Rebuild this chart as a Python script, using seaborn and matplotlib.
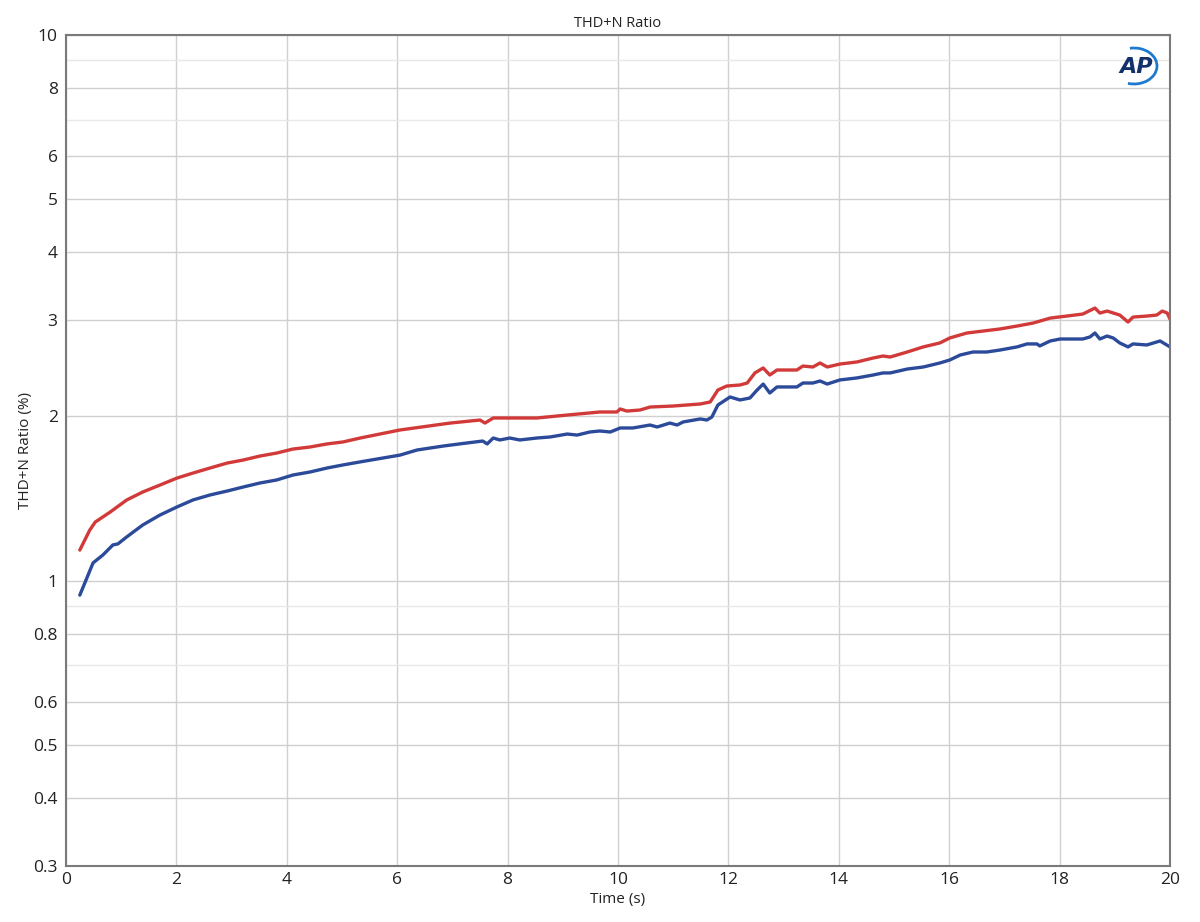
import numpy as np
import pandas as pd
import matplotlib
matplotlib.use("Agg")
import matplotlib.pyplot as plt
from matplotlib.patches import Arc
import seaborn as sns

# ---- data ----
red_t = [0.25, 0.43, 0.53, 0.80, 1.10, 1.39, 1.70, 2.01, 2.30, 2.61, 2.92, 3.21, 3.51, 3.82,
         4.11, 4.42, 4.73, 5.02, 5.33, 6.05, 6.96, 7.50, 7.59, 7.74, 8.53, 9.08, 9.67, 9.98,
         10.04, 10.16, 10.40, 10.58, 11.00, 11.49, 11.67, 11.81, 11.97, 12.21, 12.34, 12.48,
         12.63, 12.75, 12.88, 13.24, 13.35, 13.53, 13.66, 13.79, 14.02, 14.33, 14.62, 14.80,
         14.93, 15.24, 15.53, 15.83, 16.01, 16.32, 16.92, 17.23, 17.52, 17.83, 18.13, 18.42,
         18.64, 18.73, 18.86, 19.09, 19.24, 19.33, 19.58, 19.76, 19.86, 19.95, 20.0]
red_v = [1.138, 1.238, 1.281, 1.336, 1.406, 1.454, 1.497, 1.542, 1.575, 1.609, 1.643, 1.664,
         1.692, 1.714, 1.743, 1.758, 1.781, 1.796, 1.826, 1.889, 1.945, 1.970, 1.945, 1.987,
         1.987, 2.012, 2.038, 2.038, 2.064, 2.046, 2.055, 2.081, 2.090, 2.108, 2.126, 2.236,
         2.274, 2.284, 2.303, 2.403, 2.454, 2.382, 2.433, 2.433, 2.474, 2.464, 2.506, 2.464,
         2.495, 2.517, 2.559, 2.581, 2.570, 2.625, 2.682, 2.727, 2.785, 2.844, 2.893, 2.929,
         2.966, 3.029, 3.055, 3.081, 3.160, 3.094, 3.120, 3.068, 2.979, 3.042, 3.055, 3.068,
         3.120, 3.094, 3.016]

blue_t = [0.25, 0.34, 0.49, 0.67, 0.85, 0.94, 1.10, 1.39, 1.70, 2.01, 2.30, 2.61, 2.92, 3.21,
          3.51, 3.82, 4.11, 4.42, 4.73, 5.02, 5.33, 6.05, 6.36, 6.83, 7.26, 7.55, 7.63, 7.74,
          7.86, 8.04, 8.22, 8.53, 8.77, 9.08, 9.26, 9.49, 9.67, 9.86, 10.04, 10.27, 10.58,
          10.71, 10.94, 11.07, 11.18, 11.49, 11.61, 11.70, 11.81, 12.03, 12.21, 12.39, 12.52,
          12.63, 12.75, 12.88, 13.24, 13.35, 13.53, 13.66, 13.79, 14.02, 14.33, 14.62, 14.80,
          14.93, 15.24, 15.53, 15.83, 16.01, 16.20, 16.43, 16.68, 16.92, 17.23, 17.41, 17.59,
          17.64, 17.83, 18.01, 18.42, 18.55, 18.64, 18.73, 18.86, 18.97, 19.09, 19.24, 19.33,
          19.58, 19.82, 20.0]
blue_v = [0.941, 0.990, 1.078, 1.115, 1.163, 1.168, 1.203, 1.265, 1.319, 1.365, 1.406, 1.436,
          1.460, 1.485, 1.510, 1.530, 1.562, 1.582, 1.609, 1.630, 1.651, 1.699, 1.736, 1.765,
          1.788, 1.803, 1.781, 1.826, 1.811, 1.826, 1.811, 1.826, 1.834, 1.857, 1.849, 1.873,
          1.881, 1.873, 1.905, 1.905, 1.929, 1.913, 1.945, 1.929, 1.954, 1.979, 1.970, 1.995,
          2.099, 2.171, 2.144, 2.162, 2.236, 2.293, 2.208, 2.265, 2.265, 2.303, 2.303, 2.323,
          2.293, 2.333, 2.353, 2.382, 2.403, 2.403, 2.443, 2.464, 2.506, 2.538, 2.592, 2.625,
          2.625, 2.647, 2.682, 2.716, 2.716, 2.693, 2.750, 2.773, 2.773, 2.797, 2.844, 2.773,
          2.808, 2.785, 2.727, 2.682, 2.716, 2.704, 2.750, 2.682]

channels = ["Ch2", "Ch1"]
y_major = [0.3, 0.4, 0.5, 0.6, 0.8, 1, 2, 3, 4, 5, 6, 8, 10]
y_major_labels = ["0.3", "0.4", "0.5", "0.6", "0.8", "1", "2", "3", "4", "5", "6", "8", "10"]
y_minor = [0.7, 0.9, 7, 9]
x_ticks = [0, 2, 4, 6, 8, 10, 12, 14, 16, 18, 20]

df = pd.concat([
    pd.DataFrame({"t": red_t, "v": red_v, "ch": channels[0]}),
    pd.DataFrame({"t": blue_t, "v": blue_v, "ch": channels[1]}),
], ignore_index=True)

sns.set_theme(style="white")
plt.rcParams["font.family"] = ["Open Sans", "DejaVu Sans"]

fig = plt.figure(figsize=(12, 9.22), dpi=100)
ax = fig.add_axes([0.055, 0.0607, 0.92, 0.9013])

ax.set_yscale("log")
ax.set_ylim(0.3, 10)
ax.set_xlim(0, 20)

ax.set_yticks(y_major)
ax.set_yticklabels(y_major_labels)
ax.set_yticks(y_minor, minor=True)
ax.yaxis.set_minor_formatter(matplotlib.ticker.NullFormatter())
ax.set_xticks(x_ticks)
ax.set_xticklabels([str(x) for x in x_ticks])

ax.grid(True, which="major", color="#d0d0d0", linewidth=1.0)
ax.grid(True, which="minor", axis="y", color="#e8e8e8", linewidth=1.0)
ax.set_axisbelow(True)

sns.lineplot(data=df, x="t", y="v", hue="ch", palette={"Ch2": "#d23a3a", "Ch1": "#2b4a99"},
             estimator=None, sort=False, linewidth=2.4, legend=False, ax=ax)

ax.tick_params(axis="both", which="both", length=0, labelsize=12.5, colors="#222222")
ax.tick_params(axis="y", pad=6)
ax.tick_params(axis="x", pad=4)

for s in ax.spines.values():
    s.set_color("#7a7a7a")
    s.set_linewidth(1.5)

ax.set_title("THD+N Ratio", fontsize=10.5, color="#222222", pad=6)
ax.set_xlabel("Time (s)", fontsize=11, color="#222222", labelpad=3)
ax.set_ylabel("THD+N Ratio (%)", fontsize=11, color="#222222", labelpad=0)

# AP logo
fig.text(1136 / 1200, 1 - 67 / 922, "AP", fontsize=16, fontweight="bold", fontstyle="italic",
         color="#13306b", ha="center", va="center", family="DejaVu Sans")
arc = Arc((1134 / 1200, 1 - 66 / 922), 46 / 1200, 36 / 922, theta1=-105, theta2=100,
          transform=fig.transFigure, color="#1e7ad0", linewidth=2.0)
fig.add_artist(arc)

fig.savefig("out.png", dpi=100, facecolor="white")
